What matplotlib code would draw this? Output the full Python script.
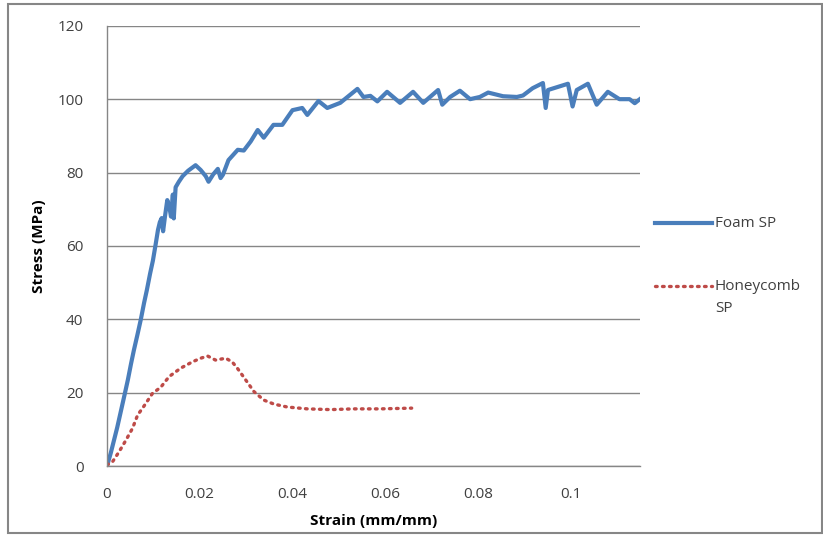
import matplotlib.pyplot as plt
from matplotlib.lines import Line2D
from matplotlib.patches import Rectangle

# foam sandwich panel
foam_strain = [0, 0.0008, 0.0015, 0.0022, 0.003, 0.0038, 0.0045, 0.0052, 0.0058, 0.0066,
               0.0073, 0.008, 0.0086, 0.0093, 0.0099, 0.0105, 0.011, 0.0114, 0.0118, 0.0121,
               0.0125, 0.013, 0.0134, 0.0138, 0.0142, 0.0144, 0.0148, 0.0155, 0.0163, 0.0175,
               0.0191, 0.0202, 0.0213, 0.0219, 0.0229, 0.0239, 0.0245, 0.025, 0.0262, 0.0282,
               0.0295, 0.031, 0.0325, 0.0338, 0.0359, 0.0378, 0.040, 0.0421, 0.0432, 0.0456,
               0.0475, 0.0503, 0.054, 0.0553, 0.0568, 0.0583, 0.0604, 0.0632, 0.066, 0.0682,
               0.0714, 0.0723, 0.074, 0.0761, 0.0783, 0.0804, 0.0822, 0.0854, 0.0884, 0.0897,
               0.0918, 0.094, 0.0946, 0.0951, 0.0994, 0.1004, 0.1013, 0.1037, 0.1056, 0.108,
               0.1105, 0.1127, 0.1138, 0.1153]
foam_stress = [0, 3.5, 7, 10.5, 15, 19.5, 23.5, 28, 31.6, 36,
               40, 44.5, 48, 52.5, 56, 60.5, 64.4, 66.5, 67.6, 64,
               68, 72.5, 71, 68, 74, 67.5, 76, 77.5, 79, 80.5,
               82, 80.7, 79, 77.5, 79.5, 81, 78.5, 79.4, 83.4, 86.2,
               86, 88.5, 91.6, 89.5, 93, 93, 97, 97.6, 95.7, 99.5,
               97.6, 99, 102.8, 100.6, 100.9, 99.4, 102, 99, 102, 99,
               102.5, 98.5, 100.6, 102.3, 100, 100.6, 101.8, 100.8, 100.6, 101,
               103, 104.4, 97.6, 102.5, 104.2, 98, 102.5, 104.2, 98.5, 102,
               100, 100, 98.9, 100.4]

# honeycomb sandwich panel
hc_strain = [0, 0.0012, 0.0026, 0.0041, 0.0055, 0.0066, 0.008, 0.0098, 0.0116, 0.0134,
             0.0159, 0.0184, 0.0202, 0.0217, 0.0234, 0.0256, 0.027, 0.0281, 0.0299, 0.0317,
             0.0338, 0.036, 0.0389, 0.0432, 0.0482, 0.0532, 0.0589, 0.0657]
hc_stress = [0.3, 1.2, 3.9, 7.1, 10.3, 13.9, 16.4, 19.8, 21.5, 24.4,
             26.7, 28.4, 29.4, 30, 28.9, 29.4, 28.4, 26.7, 23.5, 20.3,
             18, 16.9, 16.1, 15.6, 15.4, 15.6, 15.6, 15.8]

xticks = [0, 0.02, 0.04, 0.06, 0.08, 0.1]
xticklabels = ["0", "0.02", "0.04", "0.06", "0.08", "0.1"]
yticks = [0, 20, 40, 60, 80, 100, 120]

blue = "#4A7EBB"
red = "#BE4B48"
grey = "#868686"
dots = (0, (0.5, 1.6))

plt.rcParams['font.family'] = ['Open Sans', 'DejaVu Sans']

fig = plt.figure(figsize=(8.23, 5.37), dpi=100)
ax = fig.add_axes([0.130, 0.132, 0.648, 0.820])

ax.plot(foam_strain, foam_stress, color=blue, lw=3, solid_joinstyle="round")
ax.plot(hc_strain, hc_stress, color=red, lw=2.4, ls=dots, dash_capstyle="round")

ax.set_xlim(0, 0.115)
ax.set_ylim(0, 120)
ax.set_xticks(xticks)
ax.set_xticklabels(xticklabels)
ax.set_yticks(yticks)
ax.tick_params(length=0, labelsize=11, colors="#404040")
ax.tick_params(axis="x", pad=15)
ax.tick_params(axis="y", pad=17)
ax.grid(axis="y", color=grey, lw=1)
ax.set_axisbelow(True)
for s in ["top", "right"]:
    ax.spines[s].set_visible(False)
for s in ["left", "bottom"]:
    ax.spines[s].set_color(grey)
    ax.spines[s].set_linewidth(1)

ax.set_xlabel("Strain (mm/mm)", fontsize=11, fontweight="bold", labelpad=9)
ax.set_ylabel("Stress (MPa)", fontsize=11, fontweight="bold", labelpad=8)

# legend drawn by hand to keep the wrapped label aligned with its first line
fig.add_artist(Line2D([655 / 823, 712 / 823], [1 - 223 / 537] * 2, color=blue, lw=3))
fig.text(715 / 823, 1 - 223 / 537, "Foam SP", fontsize=11, va="center", color="#404040")
fig.add_artist(Line2D([655 / 823, 712 / 823], [1 - 286 / 537] * 2, color=red, lw=2.4,
                      ls=dots, dash_capstyle="round"))
fig.text(715 / 823, 1 - 286 / 537, "Honeycomb", fontsize=11, va="center", color="#404040")
fig.text(715 / 823, 1 - 308 / 537, "SP", fontsize=11, va="center", color="#404040")

fig.add_artist(Rectangle((8 / 823, 4 / 537), 814 / 823, 529 / 537, transform=fig.transFigure,
                         fill=False, edgecolor=grey, lw=1.5))

fig.savefig("out.png", dpi=100)
